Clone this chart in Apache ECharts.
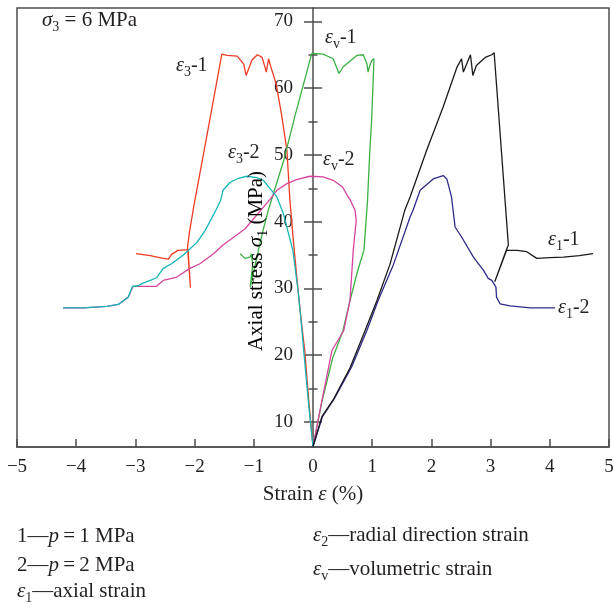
<!DOCTYPE html>
<html><head><meta charset="utf-8">
<script src="https://cdn.jsdelivr.net/npm/echarts@6/dist/echarts.min.js"></script>
<style>html,body{margin:0;padding:0;background:#fff}#c{width:613px;height:607px}</style>
</head><body><div id="c"></div>
<script>
// ---------- data ----------
const xMin = -5, xMax = 5;
const yMin = 6.25, yMax = 72;
const yMajorTicks = [10, 20, 30, 40, 50, 60, 70];
const yMinorTicks = [15, 25, 35, 45, 55, 65];

// ε1-1 axial strain, p = 1 MPa
const e1_1 = [[0,6.3],[0.15,10.8],[0.34,13.3],[0.63,18.2],[0.88,23.7],[1.08,28.2],[1.3,33.6],[1.55,41.7],[1.64,43.7],[1.92,50.7],[2.2,57.2],[2.43,63.1],[2.51,64.4],[2.54,62.4],[2.66,65.0],[2.70,61.9],[2.76,63.4],[2.91,64.6],[3.02,65.0],[3.06,65.3],[3.30,36.5],[3.26,35.6],[3.07,31.0],[3.27,35.7],[3.45,35.7],[3.61,35.5],[3.78,34.5],[4.0,34.6],[4.23,34.7],[4.5,34.9],[4.73,35.2]];
// ε1-2 axial strain, p = 2 MPa
const e1_2 = [[0,6.3],[0.16,10.8],[0.36,13.5],[0.65,18.2],[0.91,23.7],[1.10,28.2],[1.36,33.6],[1.64,40.7],[1.69,41.7],[1.81,44.7],[2.03,46.4],[2.20,46.9],[2.26,46.4],[2.34,43.7],[2.40,39.2],[2.51,37.7],[2.71,34.7],[2.88,32.7],[2.96,31.5],[3.02,31.2],[3.09,30.2],[3.10,28.7],[3.16,27.7],[3.33,27.4],[3.67,27.1],[4.09,27.1]];
// ε3-1 radial strain, p = 1 MPa
const e3_1 = [[0,6.3],[-0.07,13],[-0.135,20.3],[-0.19,24.5],[-0.25,29.5],[-0.33,37],[-0.39,43.2],[-0.44,50.6],[-0.53,56],[-0.625,60.7],[-0.72,63.4],[-0.75,64.4],[-0.79,62.4],[-0.81,63.1],[-0.86,64.6],[-0.94,65.0],[-1.03,64.2],[-1.13,61.9],[-1.17,63.6],[-1.28,64.8],[-1.45,64.9],[-1.54,65.1],[-1.78,53.5],[-2.02,42.0],[-2.09,38.2],[-2.12,36.2],[-2.07,30.1],[-2.11,35.8],[-2.28,35.7],[-2.39,35.1],[-2.44,34.4],[-2.53,34.5],[-2.75,34.9],[-2.99,35.2]];
// ε3-2 radial strain, p = 2 MPa
const e3_2 = [[0,6.3],[-0.08,13.2],[-0.15,20],[-0.2,25],[-0.25,29.5],[-0.34,35.7],[-0.5,41.2],[-0.61,43.7],[-0.75,45.2],[-0.84,46.2],[-0.95,46.6],[-1.12,46.8],[-1.26,46.5],[-1.40,45.9],[-1.52,44.7],[-1.56,43.2],[-1.63,41.9],[-1.82,38.7],[-1.96,36.9],[-2.19,35],[-2.39,33.7],[-2.53,33.0],[-2.64,31.6],[-2.75,31.2],[-2.87,30.8],[-2.95,30.4],[-3.05,30.3],[-3.12,28.7],[-3.29,27.6],[-3.48,27.3],[-3.88,27.1],[-4.22,27.1]];
// εv-1 volumetric strain, p = 1 MPa
const ev_1 = [[0,6.3],[0.15,13],[0.33,19.5],[0.5,23.5],[0.62,28],[0.75,32.5],[0.86,35.7],[0.92,43],[0.96,50.6],[0.99,55.2],[1.02,62],[1.03,64.4],[0.99,64.1],[0.96,63.4],[0.93,62.4],[0.91,63.7],[0.85,65.0],[0.74,64.9],[0.51,63.2],[0.44,62.2],[0.34,64.4],[0.17,65.1],[-0.02,65.2],[-0.3,56],[-0.5,49],[-0.755,41.7],[-0.85,38.5],[-1.06,30.2],[-1.02,33.5],[-1.04,35.2],[-1.06,34.7],[-1.15,34.5],[-1.23,35.2]];
// εv-2 volumetric strain, p = 2 MPa
const ev_2 = [[0,6.3],[0.15,13.2],[0.32,20.7],[0.52,23.7],[0.625,28.2],[0.68,35.7],[0.73,40.2],[0.71,41.7],[0.625,43.3],[0.58,43.9],[0.50,45.2],[0.34,46.2],[0.17,46.7],[-0.05,46.8],[-0.28,46.3],[-0.44,45.7],[-0.61,44.7],[-0.73,43.3],[-1.15,38.9],[-1.52,36.5],[-1.68,35.2],[-1.91,33.7],[-2.08,33.0],[-2.3,31.7],[-2.53,31.2],[-2.65,30.3],[-3.04,30.3],[-3.12,28.7],[-3.29,27.6],[-3.48,27.3],[-3.88,27.1],[-4.22,27.1]];

// ---------- styling ----------
const FONT = '"Liberation Serif", "DejaVu Serif", serif';
const TXT = '#231f20';
const AX = '#4d4d4d';
const W = 613, GRID_L = 17, GRID_R = 4;
const gridW = W - GRID_L - GRID_R;
// place the vertical axis at x = 0 of the strain axis
const yOffset = -((0 - xMin) / (xMax - xMin)) * gridW;

function makeRich(size) {
  const sub = Math.round(size * 0.68);
  const lh = Math.round(size * 1.33);
  return {
    b: {fontSize: size, fontFamily: FONT, color: TXT, lineHeight: lh},
    i: {fontSize: size, fontFamily: FONT, color: TXT, fontStyle: 'italic', lineHeight: lh},
    s: {fontSize: sub, fontFamily: FONT, color: TXT, lineHeight: sub, verticalAlign: 'bottom'}
  };
}
const rich21 = makeRich(21);
const rich20 = makeRich(20);
function label(x, y, text, rich) {
  return {
    type: 'text', x: x, y: y, z: 100,
    style: {text: text, rich: rich || rich21, fill: TXT, align: 'left', verticalAlign: 'middle'}
  };
}
function yAx(ticks, len, inside, main) {
  return {
    type: 'value', min: yMin, max: yMax, position: 'left', offset: yOffset,
    axisLine: {show: main, onZero: false, lineStyle: {color: AX, width: 1.5}},
    axisTick: {show: true, inside: inside, length: len, customValues: ticks, lineStyle: {color: AX, width: 1.5}},
    axisLabel: main ? {show: true, customValues: yMajorTicks, margin: 20, fontSize: 19, fontFamily: FONT, color: TXT} : {show: false},
    splitLine: {show: false}
  };
}
function line(data, color) {
  return {type: 'line', data: data, showSymbol: false, symbol: 'none', xAxisIndex: 0, yAxisIndex: 0,
    lineStyle: {color: color, width: 1.3}, itemStyle: {color: color}, animation: false};
}

const chart = echarts.init(document.getElementById('c'), null, {renderer: 'canvas'});
chart.setOption({
  animation: false,
  backgroundColor: '#fff',
  grid: {left: GRID_L, right: GRID_R, top: 8, bottom: 160, show: true, borderColor: AX, borderWidth: 1.5,
         containLabel: false, outerBoundsMode: 'none'},
  xAxis: {
    type: 'value', min: xMin, max: xMax, interval: 1, position: 'bottom',
    axisLine: {onZero: false, lineStyle: {color: AX, width: 1.5}},
    axisTick: {inside: true, length: 8, lineStyle: {color: AX, width: 1.5}},
    axisLabel: {margin: 11, fontSize: 19, fontFamily: FONT, color: TXT,
      formatter: v => (v < 0 ? '\u2212' + Math.abs(v) : String(v))},
    splitLine: {show: false},
    name: '{b|Strain }{i|ε}{b| (%)}', nameLocation: 'middle', nameGap: 33,
    nameTextStyle: {rich: rich21}
  },
  yAxis: [
    yAx(yMajorTicks, 9, false, true),
    yAx(yMajorTicks, 9, true, false),
    yAx(yMinorTicks, 4.5, false, false),
    yAx(yMinorTicks, 4.5, true, false)
  ],
  series: [
    line(e3_1, '#ef3b24'),
    line(ev_1, '#3bb043'),
    line(ev_2, '#d6449e'),
    line(e3_2, '#13b5b8'),
    line(e1_2, '#2e2a8a'),
    line(e1_1, '#1a1a1a')
  ],
  graphic: [
    label(42, 20, '{i|σ}{s|3}{b| = 6 MPa}'),
    label(176, 66, '{i|ε}{s|3}{b|-1}', rich20),
    label(325, 38, '{i|ε}{s|v}{b|-1}', rich20),
    label(228, 153, '{i|ε}{s|3}{b|-2}', rich20),
    label(323, 160, '{i|ε}{s|v}{b|-2}', rich20),
    label(548, 240, '{i|ε}{s|1}{b|-1}', rich20),
    label(558, 308, '{i|ε}{s|1}{b|-2}', rich20),
    {type: 'text', x: 256, y: 261, rotation: Math.PI / 2, z: 100,
     style: {text: '{b|Axial stress }{i|σ}{s|1}{b| (MPa)}', rich: rich21, align: 'center', verticalAlign: 'middle'}},
    label(17, 536, '{b|1—}{i|p}{b|\u2009=\u20091 MPa}'),
    label(17, 565, '{b|2—}{i|p}{b|\u2009=\u20092 MPa}'),
    label(17, 591, '{i|ε}{s|1}{b|—axial strain}'),
    label(313, 535, '{i|ε}{s|2}{b|—radial direction strain}'),
    label(313, 569, '{i|ε}{s|v}{b|—volumetric strain}')
  ]
});
</script>
</body></html>
